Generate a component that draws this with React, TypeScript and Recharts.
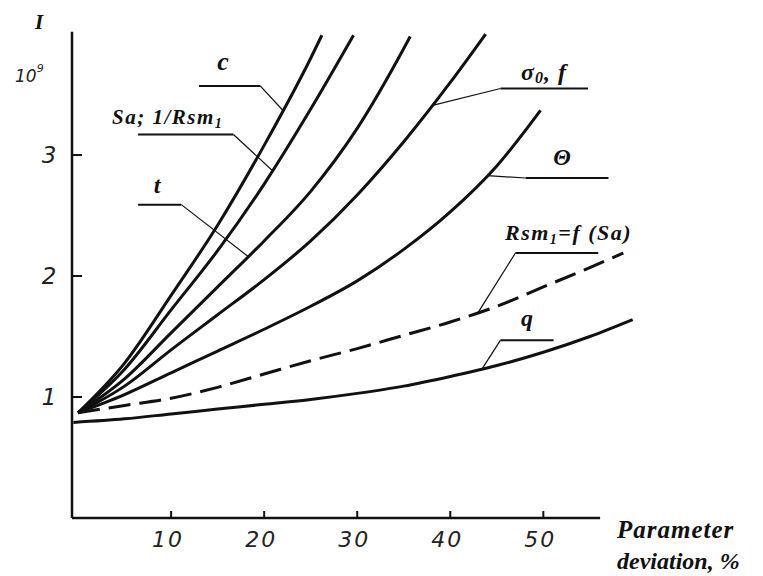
import React from "react";
import { LineChart, Line, XAxis, YAxis, ReferenceLine } from "recharts";

// curve c
const cX = [0, 5, 10, 15, 20, 25, 26.2];
const cY = [0.87, 1.28, 1.84, 2.42, 3.08, 3.8, 3.99];
// curve Sa; 1/Rsm1
const saX = [0, 5, 10, 15, 20, 25, 29.6];
const saY = [0.87, 1.23, 1.72, 2.21, 2.76, 3.38, 3.99];
// curve t
const tX = [0, 5, 10, 15, 20, 25, 30, 35, 35.7];
const tY = [0.87, 1.15, 1.53, 1.91, 2.29, 2.7, 3.22, 3.88, 3.98];
// curve sigma0, f
const sgX = [0, 5, 10, 15, 20, 25, 30, 35, 40, 43.8];
const sgY = [0.87, 1.09, 1.39, 1.68, 1.97, 2.29, 2.67, 3.11, 3.6, 4.0];
// curve Theta
const thX = [0, 5, 10, 15, 20, 25, 30, 35, 40, 45, 49.7];
const thY = [0.87, 1.02, 1.2, 1.38, 1.56, 1.75, 1.96, 2.22, 2.53, 2.91, 3.37];
// dashed Rsm1 = f(Sa)
const rsX = [0, 5, 10, 15, 20, 25, 30, 35, 40, 45, 50, 55, 58.6];
const rsY = [0.87, 0.93, 0.99, 1.08, 1.19, 1.3, 1.4, 1.51, 1.62, 1.75, 1.91, 2.07, 2.19];
// curve q
const qX = [-0.5, 5, 10, 15, 20, 25, 30, 35, 40, 45, 50, 55, 59.6];
const qY = [0.79, 0.82, 0.86, 0.9, 0.94, 0.98, 1.03, 1.09, 1.17, 1.26, 1.37, 1.5, 1.64];

const xTicks = [10, 20, 30, 40, 50];
const yTicks = [1, 2, 3];

// leader lines: tip on curve, elbow, end of the underline
const leaders = [
  [[22.0, 3.37], [19.6, 3.57], [13.0, 3.57]],
  [[20.9, 2.87], [16.7, 3.17], [6.45, 3.17]],
  [[18.3, 2.16], [11.1, 2.59], [6.45, 2.59]],
  [[38.1, 3.41], [45.4, 3.55], [54.8, 3.55]],
  [[44.0, 2.83], [48.1, 2.81], [57.0, 2.81]],
  [[43.0, 1.7], [47.0, 2.19], [55.9, 2.19]],
  [[43.4, 1.23], [45.4, 1.47], [51.1, 1.47]],
];

const zip = (xs: number[], ys: number[]) => xs.map((x, i) => ({ x, y: ys[i] }));

const curves = [
  { id: "c", data: zip(cX, cY) },
  { id: "sa", data: zip(saX, saY) },
  { id: "t", data: zip(tX, tY) },
  { id: "sg", data: zip(sgX, sgY) },
  { id: "th", data: zip(thX, thY) },
  { id: "rs", data: zip(rsX, rsY), dash: "22 9" },
  { id: "q", data: zip(qX, qY) },
];

const serif = "'Liberation Serif', 'DejaVu Serif', serif";
const sans = "'DejaVu Sans', sans-serif";
const ink = "#111";

function XTick({ x, y, payload }: any) {
  return (
    <g>
      <line x1={x} y1={y} x2={x} y2={y - 7} stroke={ink} strokeWidth={2} />
      <text x={x - 3} y={y + 29} textAnchor="middle" fontFamily={sans} fontStyle="italic"
        fontSize={22} fill="#222" letterSpacing={2}>
        {payload.value}
      </text>
    </g>
  );
}

function YTick({ x, y, payload }: any) {
  return (
    <g>
      <line x1={x} y1={y} x2={x + 10} y2={y} stroke={ink} strokeWidth={2} />
      <text x={x - 23} y={y + 8} textAnchor="middle" fontFamily={sans} fontStyle="italic"
        fontSize={23} fill="#222">
        {payload.value}
      </text>
    </g>
  );
}

const lab = { fontFamily: serif, fontWeight: 700, fontStyle: "italic" as const, fill: ink };

export default function App() {
  return (
    <div style={{ position: "absolute", left: 0, top: 0, width: 763, height: 576, background: "#fff" }}>
      <LineChart width={763} height={576} margin={{ top: 28, right: 108, bottom: 0, left: 0 }}>
        <XAxis type="number" dataKey="x" domain={[-0.65, 62]} ticks={xTicks} allowDataOverflow
          height={58} axisLine={false} tickLine={false} tickSize={0} tickMargin={0} tick={<XTick />} />
        <YAxis type="number" dataKey="y" domain={[0, 4.05]} ticks={yTicks} allowDataOverflow
          width={72} axisLine={false} tickLine={false} tickSize={0} tickMargin={0} tick={<YTick />} />
        <ReferenceLine segment={[{ x: -0.65, y: 0 }, { x: 56.1, y: 0 }]} stroke={ink} strokeWidth={2.5} ifOverflow="visible" />
        <ReferenceLine segment={[{ x: -0.65, y: 0 }, { x: -0.65, y: 4.02 }]} stroke={ink} strokeWidth={2.5} ifOverflow="visible" />
        {leaders.map((l, i) => (
          <ReferenceLine key={"d" + i} segment={[{ x: l[0][0], y: l[0][1] }, { x: l[1][0], y: l[1][1] }]}
            stroke={ink} strokeWidth={1.2} ifOverflow="visible" />
        ))}
        {leaders.map((l, i) => (
          <ReferenceLine key={"h" + i} segment={[{ x: l[1][0], y: l[1][1] }, { x: l[2][0], y: l[2][1] }]}
            stroke={ink} strokeWidth={2} ifOverflow="visible" />
        ))}
        {curves.map((c) => (
          <Line key={c.id} data={c.data} dataKey="y" type="monotone" stroke={ink} strokeWidth={3}
            strokeDasharray={c.dash} dot={false} activeDot={false} isAnimationActive={false} />
        ))}
      </LineChart>
      <svg width={763} height={576} style={{ position: "absolute", left: 0, top: 0, pointerEvents: "none" }}>
        <text x={39} y={29} textAnchor="middle" fontSize={21} {...lab}>I</text>
        <text x={15} y={82} fontFamily={sans} fontStyle="italic" fontSize={17} fill="#222">
          10<tspan fontSize={11} dy={-10}>9</tspan>
        </text>
        <text x={223} y={70} textAnchor="middle" fontSize={26} {...lab}>c</text>
        <text x={112} y={124} fontSize={21} letterSpacing={1.5} {...lab}>
          Sa; 1/Rsm<tspan fontSize={14} dy={4}>1</tspan>
        </text>
        <text x={157} y={193} textAnchor="middle" fontSize={24} {...lab}>t</text>
        <text x={521} y={80} fontSize={24} letterSpacing={1} {...lab}>
          σ<tspan fontSize={16} dy={3}>0</tspan><tspan dy={-3}>, f</tspan>
        </text>
        <text x={562} y={165} textAnchor="middle" fontSize={23} {...lab}>Θ</text>
        <text x={505} y={240} fontSize={22} letterSpacing={1.5} {...lab}>
          Rsm<tspan fontSize={14} dy={4}>1</tspan><tspan dy={-4}>=f (Sa)</tspan>
        </text>
        <text x={527} y={326} textAnchor="middle" fontSize={24} {...lab}>q</text>
        <text x={617} y={538} fontSize={25} letterSpacing={1} {...lab}>Parameter</text>
        <text x={617} y={569} fontSize={24} {...lab}>deviation, %</text>
      </svg>
    </div>
  );
}
